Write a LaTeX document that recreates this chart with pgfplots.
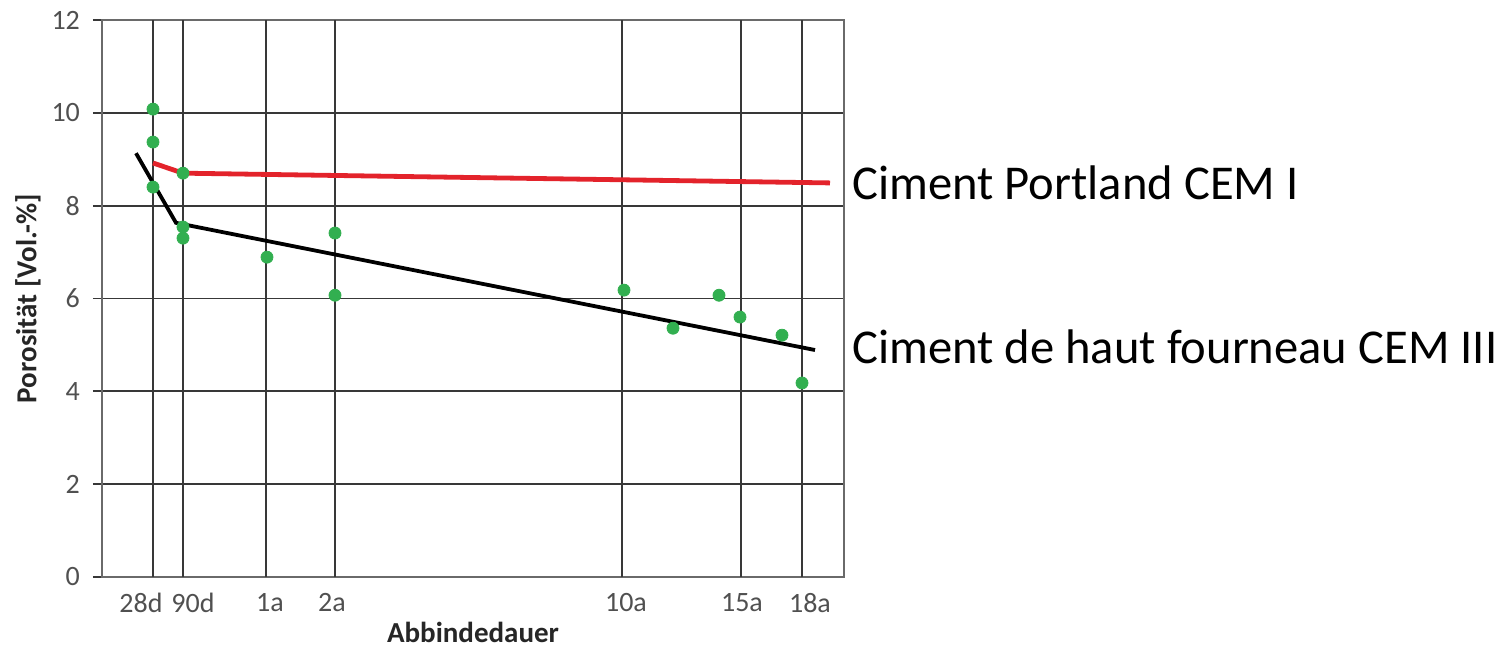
\documentclass[border=0pt]{standalone}
\usepackage{pgfplots}
\pgfplotsset{compat=1.18}
\usepackage{fontspec}
\setmainfont{Carlito}
\definecolor{gridc}{HTML}{383838}
\definecolor{boxc}{HTML}{6A6A6A}
\definecolor{tickc}{HTML}{505050}
\definecolor{dotc}{RGB}{50,175,80}
\definecolor{redl}{HTML}{E3232B}
\begin{document}
\begin{tikzpicture}
\path[use as bounding box] (-51pt,-35.5pt) rectangle (699.5pt,288.5pt);
\begin{axis}[
  at={(0pt,0pt)}, anchor=south west,
  scale only axis, width=371pt, height=278.5pt,
  xmin=0, xmax=742, ymin=0, ymax=12,
  clip=false,
  axis line style={boxc, line width=0.9pt},
  xtick={39,91,168,230,524,640,708},
  xticklabels={28d,90d,1a,2a,10a,15a,18a},
  xmajorgrids=false,
  major x tick style={draw=none},
  extra x ticks={51,81,164,233,520,639,700},
  extra x tick labels={},
  extra x tick style={grid=major, major tick length=0pt, major x tick style={draw=none}},
  ytick={0,2,...,12},
  ymajorgrids,
  ytick pos=left,
  tick align=outside,
  major tick length=4.5pt,
  major y tick style={gridc, line width=0.9pt},
  grid style={gridc, line width=0.9pt},
  /pgf/number format/assume math mode=true,
  ticklabel style={font=\fontsize{14}{16}\selectfont, text=tickc},
  yticklabel style={xshift=-3pt},
  xticklabel style={yshift=0pt},
  xlabel={\textbf{Abbindedauer}},
  ylabel={\textbf{Porosität [Vol.-\%]}},
  label style={font=\fontsize{14.5}{16}\selectfont, text=black!85, inner sep=1pt},
  xlabel style={at={(axis description cs:0.5,0)}, yshift=-27.5pt, anchor=center},
  ylabel style={at={(axis description cs:-0.0997,0.5)}, anchor=center},
]
\addplot[only marks, mark=*, mark size=3pt, mark options={draw=dotc, fill=dotc}] coordinates {
 (51,10.08) (51,9.37) (51,8.40)
 (81,8.70) (81,7.54) (81,7.30)
 (165,6.89)
 (233,7.41) (233,6.07)
 (522,6.18) (571,5.36) (617,6.07) (638,5.60) (680,5.21) (700,4.18)
};
\addplot[redl, line width=2.4pt] coordinates {(51,8.92) (81,8.70) (728,8.49)};
\addplot[black, line width=1.9pt] coordinates {(34,9.13) (74,7.63) (713,4.89)};
\node[anchor=west, font=\fontsize{24.3}{27}\selectfont, inner sep=0pt] at (axis cs:750,8.49) {Ciment Portland CEM I};
\node[anchor=west, font=\fontsize{24.3}{27}\selectfont, inner sep=0pt] at (axis cs:750,4.95) {Ciment de haut fourneau CEM III};
\end{axis}
\end{tikzpicture}
\end{document}
